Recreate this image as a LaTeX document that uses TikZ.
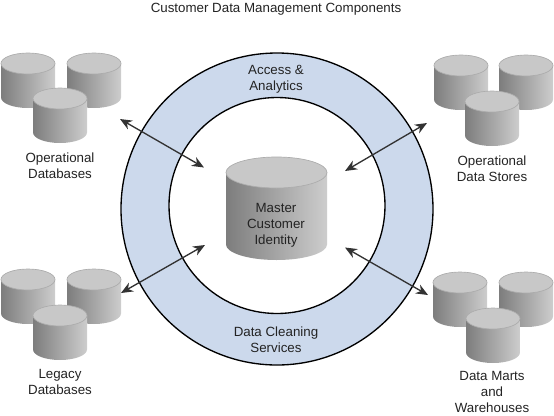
\documentclass[tikz,border=0pt]{standalone}
\usepackage{xcolor}
\usepackage{fontspec}
\setmainfont{Liberation Sans}
\usepackage{tikz}
\usetikzlibrary{arrows.meta}

\definecolor{bandblue}{RGB}{204,217,236}
\definecolor{cyltop}{RGB}{200,200,200}
\definecolor{cylrim}{RGB}{172,172,172}
\definecolor{cyldark}{RGB}{125,125,125}
\definecolor{cyllight}{RGB}{205,205,205}
\definecolor{inktext}{RGB}{35,35,35}

\tikzset{
    lbl/.style={font=\fontsize{10}{12}\selectfont, text=inktext, align=center, inner sep=0pt},
    link/.style={draw=black!80, line width=1pt, {Stealth[length=9pt,width=7.5pt]}-{Stealth[length=9pt,width=7.5pt]}},
    ring/.style={draw=black, line width=1pt}
}

% x, top y, half width, ellipse half height, total height
\newcommand{\dbcyl}[5]{
    \shade[left color=cyldark, right color=cyllight]
        (#1-#3,#2+#4) -- (#1-#3,#2+#5-#4) arc (180:0:#3 and #4) -- (#1+#3,#2+#4) -- cycle;
    \filldraw[fill=cyltop, draw=cylrim, line width=0.5pt] (#1,#2+#4) ellipse ({#3} and {#4});
}
% three small ones
\newcommand{\dbgroup}[6]{
    \dbcyl{#1}{#2}{27}{10.5}{55}
    \dbcyl{#3}{#4}{27}{10.5}{55}
    \dbcyl{#5}{#6}{27}{10.5}{55}
}

\begin{document}
\begin{tikzpicture}[x=0.75pt, y=-0.75pt]
    \useasboundingbox (0,0) rectangle (554,415);

    \node[lbl] (title) at (276,9) {Customer Data Management Components};

    % ring
    \filldraw[ring, fill=bandblue] (277,209) circle [radius=156];
    \filldraw[ring, fill=white] (277,205.5) circle [radius=108];

    \node[lbl] (access) at (276,79.5) {Access \&\\Analytics};
    \node[lbl] (cleaning) at (276,339.5) {Data Cleaning\\Services};

    % databases
    \dbgroup{28}{53}{94}{53}{60}{88}
    \dbgroup{461}{55}{526}{55}{492}{91}
    \dbgroup{28}{269}{94}{269}{60}{305}
    \dbgroup{460}{272}{526}{272}{493}{308}
    \dbcyl{276.5}{157}{50.5}{15.5}{103}

    \node[lbl] (master) at (276,225) {Master\\Customer\\Identity};
    \node[lbl] (opdb) at (60,165.5) {Operational\\Databases};
    \node[lbl] (opstore) at (492,168.5) {Operational\\Data Stores};
    \node[lbl] (legacy) at (60,381.5) {Legacy\\Databases};
    \node[lbl] (marts) at (492,391.5) {Data Marts\\and\\Warehouses};

    % arrow ends
    \coordinate (opdbend) at (120,119);
    \coordinate (opstoreend) at (427,123);
    \coordinate (legacyend) at (121,293);
    \coordinate (martsend) at (428,295);
    \coordinate (mastertl) at (204,167.5);
    \coordinate (mastertr) at (345,171);
    \coordinate (masterbl) at (205,245);
    \coordinate (masterbr) at (345,247.5);

    \foreach \a/\b in {opdbend/mastertl, opstoreend/mastertr, legacyend/masterbl, martsend/masterbr}
        \draw[link] (\a) -- (\b);
\end{tikzpicture}
\end{document}
